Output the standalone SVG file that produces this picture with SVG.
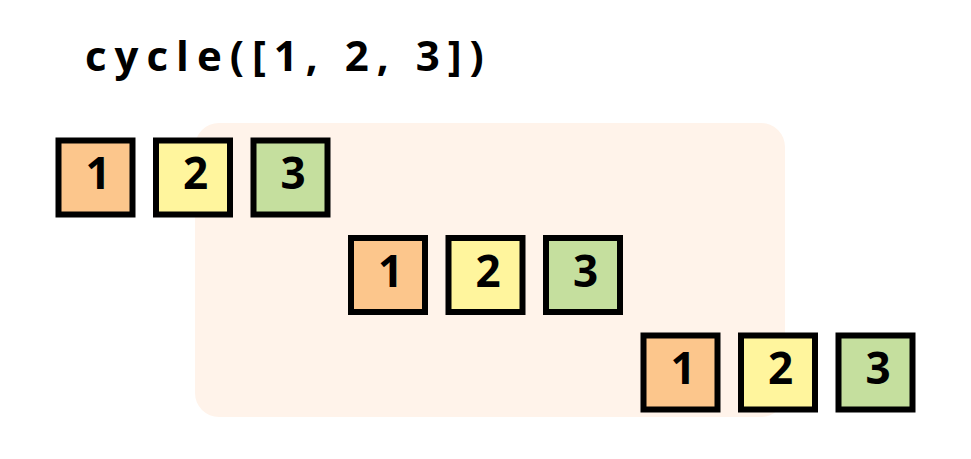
<svg xmlns="http://www.w3.org/2000/svg" width="971" height="459" viewBox="0 0 971 459">
<style>
.bg{fill:#FFF3EA}
.b{stroke:#000;stroke-width:6}
.c1{fill:#FCC68C}
.c2{fill:#FFF59D}
.c3{fill:#C5DF9E}
.n{font-family:"Open Sans",sans-serif;font-weight:bold;font-size:44px;text-anchor:middle;fill:#000}
.t{font-family:"Open Sans",sans-serif;font-weight:bold;font-size:42px;fill:#000;letter-spacing:8px}
</style>
<rect class="bg" x="195" y="123" width="590" height="294" rx="24"/>
<text class="t" x="85" y="71">cycle([1, 2, 3])</text>
<g id="r1a"><rect class="b c1" x="58.5" y="140.5" width="74" height="74"/><text class="n" x="98" y="189">1</text></g>
<g id="r1b"><rect class="b c2" x="156" y="140.5" width="74" height="74"/><text class="n" x="195.5" y="189">2</text></g>
<g id="r1c"><rect class="b c3" x="253.5" y="140.5" width="74" height="74"/><text class="n" x="293" y="189">3</text></g>
<g id="r2a"><rect class="b c1" x="351" y="238" width="74" height="74"/><text class="n" x="390.5" y="286.5">1</text></g>
<g id="r2b"><rect class="b c2" x="448.5" y="238" width="74" height="74"/><text class="n" x="488" y="286.5">2</text></g>
<g id="r2c"><rect class="b c3" x="546" y="238" width="74" height="74"/><text class="n" x="585.5" y="286.5">3</text></g>
<g id="r3a"><rect class="b c1" x="643.5" y="335.5" width="74" height="74"/><text class="n" x="683" y="384">1</text></g>
<g id="r3b"><rect class="b c2" x="741" y="335.5" width="74" height="74"/><text class="n" x="780.5" y="384">2</text></g>
<g id="r3c"><rect class="b c3" x="838.5" y="335.5" width="74" height="74"/><text class="n" x="878" y="384">3</text></g>
<g id="connectors"/>
</svg>
